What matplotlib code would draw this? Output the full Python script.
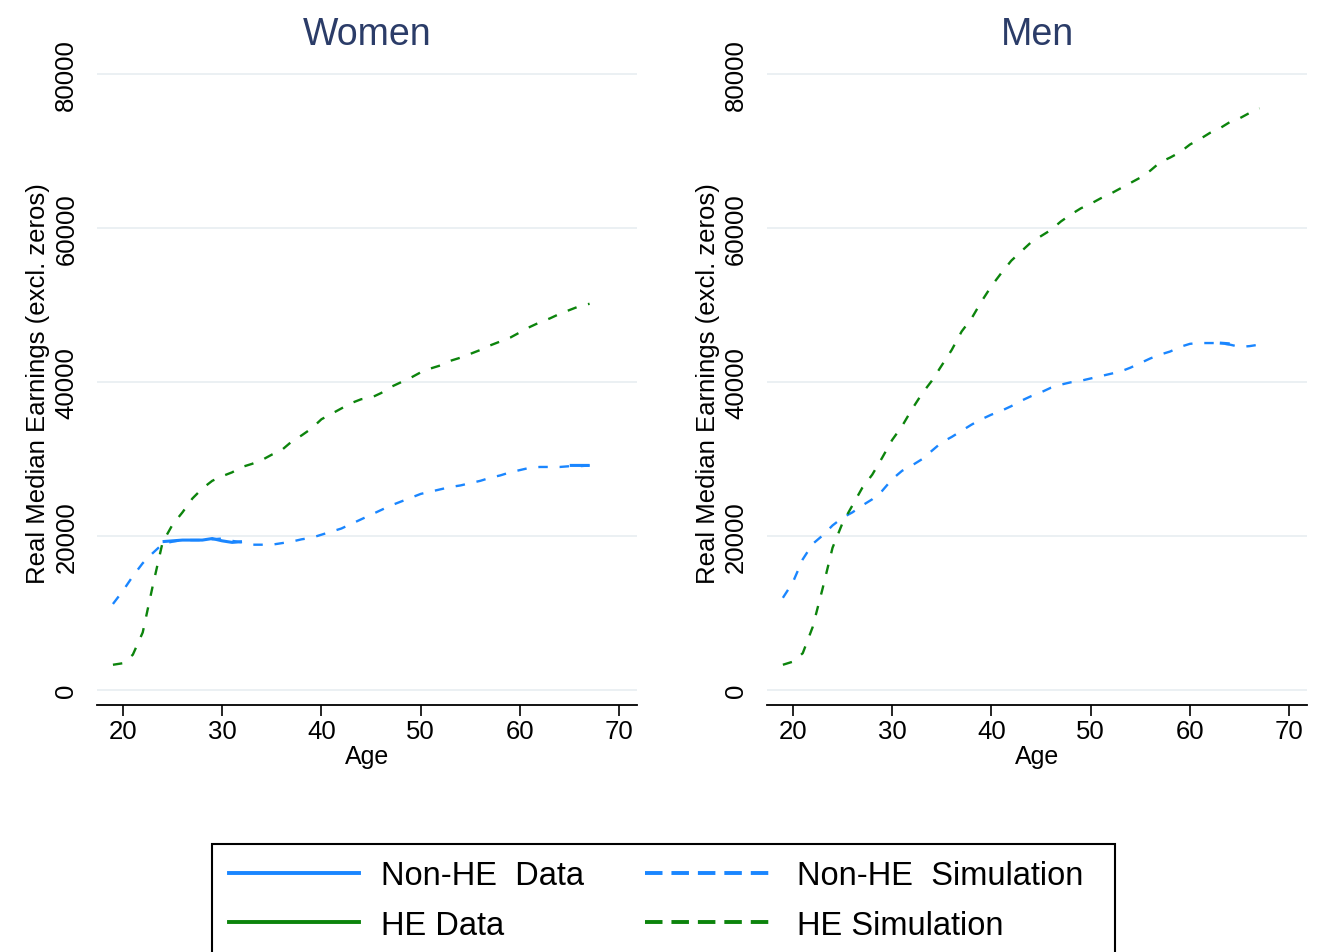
import matplotlib.pyplot as plt
import numpy as np
from matplotlib.patches import Rectangle

plt.rcParams['font.family'] = ['Liberation Sans', 'DejaVu Sans']

# ages for the simulated profiles
ages = np.arange(19, 68)

# simulated median earnings, women
women_nonhe_sim = [11.2, 12.9, 14.8, 16.5, 17.8, 19.0, 19.3, 19.5, 19.5, 19.5,
                   19.6, 19.7, 19.4, 19.2, 18.9, 18.9, 18.9, 19.1, 19.3, 19.6,
                   19.8, 20.2, 20.6, 21.0, 21.6, 22.2, 22.8, 23.4, 24.0, 24.5,
                   25.0, 25.5, 25.8, 26.1, 26.4, 26.6, 26.9, 27.2, 27.6, 27.9,
                   28.3, 28.6, 28.9, 29.0, 29.0, 29.0, 29.1, 29.1, 29.2]
women_he_sim = [3.3, 3.5, 4.6, 7.5, 13.5, 19.2, 21.5, 23.1, 24.9, 26.2,
                27.2, 27.8, 28.3, 29.0, 29.4, 29.9, 30.6, 31.2, 32.3, 33.1,
                34.0, 35.2, 35.9, 36.6, 37.3, 37.8, 38.0, 38.6, 39.4, 40.0,
                40.6, 41.3, 41.8, 42.2, 42.8, 43.2, 43.7, 44.2, 44.8, 45.3,
                45.8, 46.5, 47.2, 47.8, 48.3, 48.9, 49.4, 49.9, 50.2]

# simulated median earnings, men
men_nonhe_sim = [12.0, 14.0, 17.0, 19.0, 20.1, 21.4, 22.4, 23.1, 24.0, 24.8,
                 25.9, 27.4, 28.5, 29.2, 30.0, 31.1, 32.2, 32.9, 33.7, 34.5,
                 35.2, 35.8, 36.3, 36.9, 37.6, 38.2, 38.7, 39.3, 39.7, 40.0,
                 40.2, 40.5, 40.8, 41.1, 41.4, 41.9, 42.5, 43.1, 43.6, 44.0,
                 44.6, 45.0, 45.1, 45.1, 45.1, 44.9, 44.6, 44.7, 44.9]
men_he_sim = [3.3, 3.7, 4.8, 8.2, 13.2, 18.5, 21.7, 24.0, 26.3, 28.0,
              30.2, 32.5, 34.3, 36.5, 38.5, 40.2, 42.2, 44.2, 46.6, 48.3,
              50.5, 52.5, 54.2, 55.8, 57.0, 58.2, 59.0, 59.8, 60.9, 61.8,
              62.6, 63.2, 63.9, 64.5, 65.2, 65.9, 66.6, 67.5, 68.6, 69.2,
              69.9, 70.9, 71.6, 72.4, 73.0, 73.8, 74.3, 75.0, 75.6]

# observed data (only the visible pieces)
women_data_ages = [24, 25, 26, 27, 28, 29, 30, 31, 32, np.nan, 65, 66, 67]
women_nonhe_data = [19.3, 19.4, 19.5, 19.5, 19.5, 19.7, 19.4, 19.2, 19.3, np.nan, 29.2, 29.2, 29.2]
men_data_ages = [63, 64]
men_nonhe_data = [45.1, 45.0]

blue = '#1a86ff'
green = '#0c840c'
title_col = '#2b3c68'
grid_col = '#e9eff2'
dash = (0, (4, 5))

fig = plt.figure(figsize=(13.24, 9.53), dpi=100)
ax1 = fig.add_axes([0.0733, 0.259, 0.408, 0.678])
ax2 = fig.add_axes([0.5793, 0.259, 0.408, 0.678])

panels = [(ax1, 'Women', women_nonhe_sim, women_he_sim, women_data_ages, women_nonhe_data),
          (ax2, 'Men', men_nonhe_sim, men_he_sim, men_data_ages, men_nonhe_data)]

for ax, title, nonhe, he, dages, ddata in panels:
    ax.plot(dages, np.array(ddata) * 1000, color=blue, lw=2.2, solid_capstyle='butt')
    ax.plot(ages, np.array(nonhe) * 1000, color=blue, lw=1.7, linestyle=dash)
    ax.plot(ages, np.array(he) * 1000, color=green, lw=1.7, linestyle=dash)
    ax.set_xlim(17.4, 71.8)
    ax.set_ylim(-1950, 82000)
    ax.set_yticks([0, 20000, 40000, 60000, 80000])
    ax.set_xticks([20, 30, 40, 50, 60, 70])
    ax.grid(axis='y', color=grid_col, lw=1.3)
    ax.set_axisbelow(True)
    for s in ['top', 'right', 'left']:
        ax.spines[s].set_visible(False)
    ax.spines['bottom'].set_linewidth(1.3)
    ax.tick_params(axis='y', length=0, labelsize=18.5, pad=13.5)
    ax.tick_params(axis='x', length=8, width=1.2, labelsize=18.5, pad=2)
    plt.setp(ax.get_yticklabels(), rotation=90, va='center')
    ax.set_xlabel('Age', fontsize=18, labelpad=1)
    ax.set_ylabel('Real Median Earnings (excl. zeros)', fontsize=18.5, labelpad=3)
    ax.set_title(title, fontsize=27, color=title_col, pad=11)

# legend with manual box (cut off at the bottom like the original)
handles = [plt.Line2D([], [], color=blue, lw=2.8),
           plt.Line2D([], [], color=green, lw=2.8),
           plt.Line2D([], [], color=blue, lw=2.8, linestyle=(0, (4.5, 2.3))),
           plt.Line2D([], [], color=green, lw=2.8, linestyle=(0, (4.5, 2.3)))]
labels = ['Non-HE  Data', 'HE Data', 'Non-HE  Simulation', 'HE Simulation']
fig.legend(handles, labels, ncol=2, frameon=False, fontsize=23.5, borderpad=0,
           borderaxespad=0, loc='upper left', bbox_to_anchor=(229 / 1324, 0.0965),
           handlelength=3.98, handletextpad=0.67, columnspacing=1.87, labelspacing=0.57)
fig.add_artist(Rectangle((212 / 1324, -0.05), (1115 - 212) / 1324, 0.05 + (953 - 845) / 953,
                         transform=fig.transFigure, fill=False, ec='black', lw=1.5))

plt.savefig('out.png', dpi=100)
